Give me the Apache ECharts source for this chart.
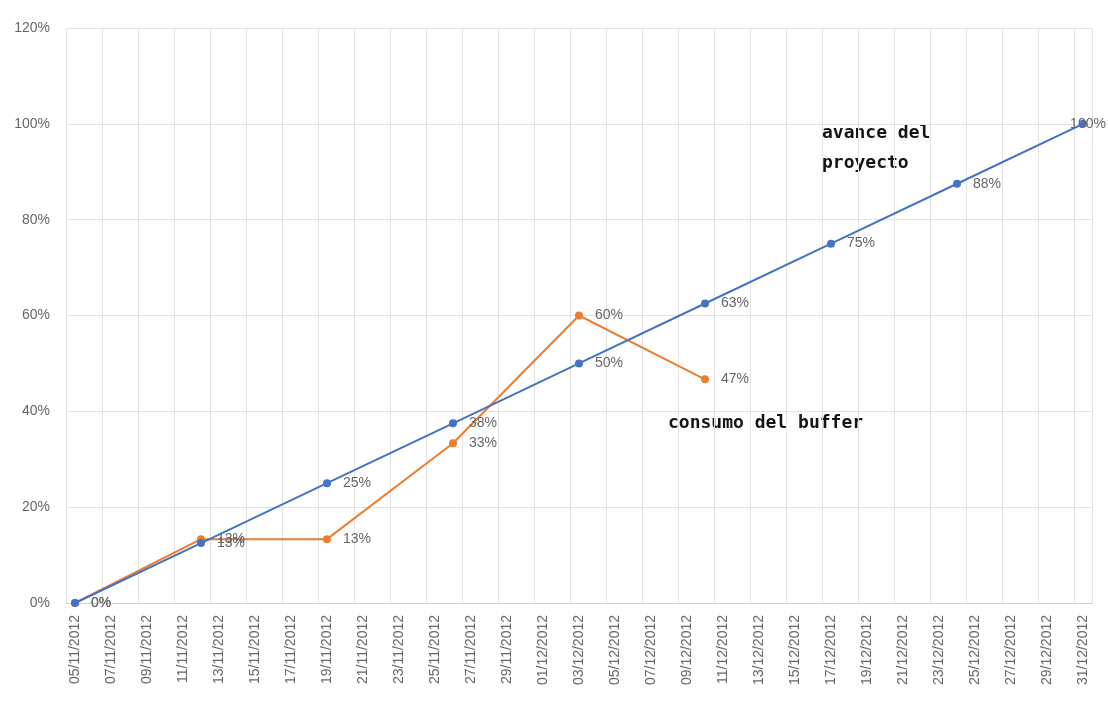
<!DOCTYPE html>
<html>
<head>
<meta charset="utf-8">
<script src="https://cdn.jsdelivr.net/npm/echarts@6/dist/echarts.min.js"></script>
<style>
  html, body { margin: 0; padding: 0; background: #fff; }
  #chart { width: 1108px; height: 708px; }
</style>
</head>
<body>
<div id="chart"></div>
<script>
// Every day of the schedule (category axis); labels show every second day
const fechas = [
  '05/11/2012','06/11/2012','07/11/2012','08/11/2012','09/11/2012','10/11/2012','11/11/2012',
  '12/11/2012','13/11/2012','14/11/2012','15/11/2012','16/11/2012','17/11/2012','18/11/2012',
  '19/11/2012','20/11/2012','21/11/2012','22/11/2012','23/11/2012','24/11/2012','25/11/2012',
  '26/11/2012','27/11/2012','28/11/2012','29/11/2012','30/11/2012','01/12/2012','02/12/2012',
  '03/12/2012','04/12/2012','05/12/2012','06/12/2012','07/12/2012','08/12/2012','09/12/2012',
  '10/12/2012','11/12/2012','12/12/2012','13/12/2012','14/12/2012','15/12/2012','16/12/2012',
  '17/12/2012','18/12/2012','19/12/2012','20/12/2012','21/12/2012','22/12/2012','23/12/2012',
  '24/12/2012','25/12/2012','26/12/2012','27/12/2012','28/12/2012','29/12/2012','30/12/2012',
  '31/12/2012'
];

// Weekly project progress (%)
const avanceFechas = ['05/11/2012','12/11/2012','19/11/2012','26/11/2012','03/12/2012',
                      '10/12/2012','17/12/2012','24/12/2012','31/12/2012'];
const avanceValores = [0, 12.5, 25, 37.5, 50, 62.5, 75, 87.5, 100];

// Buffer consumption (%)
const bufferFechas = ['05/11/2012','12/11/2012','19/11/2012','26/11/2012','03/12/2012','10/12/2012'];
const bufferValores = [0, 13.33, 13.33, 33.33, 60, 46.67];

// Y axis range (%)
const yMin = 0, yMax = 120, yPaso = 20;

const AZUL = '#4472C4';
const NARANJA = '#ED7D31';
const GRIS_TEXTO = '#666666';
const FUENTE = 'Liberation Sans';

const etiqueta = {
  show: true,
  position: 'right',
  distance: 12,
  color: GRIS_TEXTO,
  fontSize: 14,
  fontFamily: FUENTE,
  formatter: p => Math.round(p.value[1]) + '%'
};

const avanceDatos = avanceFechas.map((f, i) => {
  const item = { value: [f, avanceValores[i]] };
  // last point sits against the right edge: its label is drawn over the marker
  if (i === avanceFechas.length - 1) {
    item.label = { position: 'inside', offset: [5, 0] };
  }
  return item;
});
const bufferDatos = bufferFechas.map((f, i) => [f, bufferValores[i]]);

const chart = echarts.init(document.getElementById('chart'), null, { renderer: 'canvas' });

chart.setOption({
  animation: false,
  backgroundColor: '#ffffff',
  grid: { left: 66, right: 16, top: 28, bottom: 105, containLabel: false },
  xAxis: {
    type: 'category',
    data: fechas,
    boundaryGap: true,
    axisLine: { show: true, lineStyle: { color: '#d0d0d0', width: 1 } },
    axisTick: { show: false },
    axisLabel: {
      interval: 1,
      rotate: 90,
      margin: 12,
      color: GRIS_TEXTO,
      fontSize: 14,
      fontFamily: FUENTE
    },
    splitLine: { show: true, interval: 1, lineStyle: { color: '#e3e3e3', width: 1 } }
  },
  yAxis: {
    type: 'value',
    min: yMin,
    max: yMax,
    interval: yPaso,
    axisLine: { show: false },
    axisTick: { show: false },
    axisLabel: {
      margin: 16,
      color: GRIS_TEXTO,
      fontSize: 14,
      fontFamily: FUENTE,
      formatter: '{value}%'
    },
    splitLine: { show: true, lineStyle: { color: '#e3e3e3', width: 1 } }
  },
  series: [
    {
      name: 'consumo del buffer',
      type: 'line',
      data: bufferDatos,
      symbol: 'circle',
      symbolSize: 8,
      itemStyle: { color: NARANJA },
      lineStyle: { color: NARANJA, width: 2 },
      label: etiqueta,
      z: 2
    },
    {
      name: 'avance del proyecto',
      type: 'line',
      data: avanceDatos,
      symbol: 'circle',
      symbolSize: 8,
      itemStyle: { color: AZUL },
      lineStyle: { color: AZUL, width: 2 },
      label: etiqueta,
      z: 3
    }
  ],
  graphic: [
    {
      type: 'text',
      left: 822,
      top: 118,
      style: {
        text: 'avance del\nproyecto',
        font: 'bold 18px "DejaVu Sans Mono"',
        fill: '#151515',
        lineHeight: 30
      }
    },
    {
      type: 'text',
      left: 668,
      top: 408,
      style: {
        text: 'consumo del buffer',
        font: 'bold 18px "DejaVu Sans Mono"',
        fill: '#151515',
        lineHeight: 30
      }
    }
  ]
});
</script>
</body>
</html>
